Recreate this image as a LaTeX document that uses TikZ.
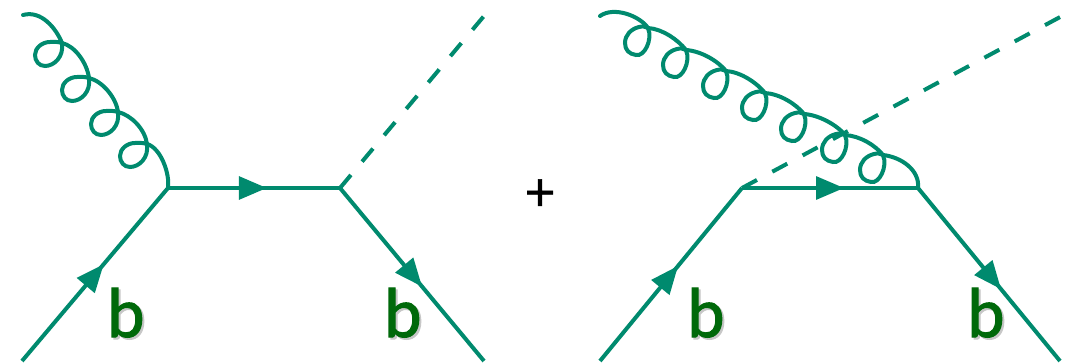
\documentclass[tikz,border=0pt]{standalone}
\usepackage{fontspec}
\setmainfont{Lato}
\newfontfamily\quarkfont[FakeBold=1.6]{Lato}
\newfontfamily\plusfont[FakeBold=.8]{Lato}
\usetikzlibrary{arrows.meta,decorations.markings}
\definecolor{linegreen}{RGB}{0,138,110}
\definecolor{quarkgreen}{RGB}{0,105,10}
\newcommand{\softshadow}[1]{\leavevmode\rlap{\kern1.5pt\raisebox{-1.5pt}{\textcolor{black!22}{#1}}}#1}
\tikzset{fermion/.style={line width=3pt,draw=linegreen,postaction={decorate},
    decoration={markings,mark=at position #1 with {\arrow[linegreen]{Triangle[length=21pt,width=17pt]}}}},
  scalar/.style={line width=3pt,draw=linegreen,dash pattern=on 12.75pt off 13.05pt},
  gluon/.style={line width=3pt,draw=linegreen,line cap=round},
  quark/.style={text=quarkgreen,font=\fontsize{50}{50}\quarkfont,anchor=base,inner sep=0pt}}

\begin{document}
\begin{tikzpicture}[x=.75pt,y=-.75pt]
  \path[use as bounding box] (0,0) rectangle (1068,364);
  % left diagram
  \coordinate (lin) at (22,361);
  \coordinate (lv1) at (168,188);
  \coordinate (lv2) at (340,188);
  \coordinate (lout) at (484,361);
  \coordinate (lhiggs) at (484,16);
  \coordinate (lglue) at (23,15);
  \draw[fermion=.56] (lin)--(lv1);
  \draw[fermion=.575] (lv1)--(lv2);
  \draw[fermion=.57] (lv2)--(lout);
  \draw[scalar] (lv2)--(lhiggs);
  \draw[gluon] (lglue) .. controls +(18,-5) and +(-6,-15) .. (62,43);
  \foreach \cx/\cy in {62/43,89/78,118/112,147/144}{
    \draw[gluon] (\cx,\cy) .. controls +(2,14) and +(9,0) .. +(-17,23)
      .. controls +(-6,0) and +(0,6) .. +(-27,12)
      .. controls +(0,-7) and +(-8,0) .. +(-12,-1)
      .. controls +(5,0) and +(-5,-1.5) .. +(0,0);
  }
  \foreach \cx/\cy/\nx/\ny in {62/43/89/78,89/78/118/112,118/112/147/144}{
    \draw[gluon] (\cx,\cy) .. controls +(13,3) and +(-2,-15) .. (\nx,\ny);
  }
  \draw[gluon] (147,144) .. controls +(14,4) and +(2,-14) .. (lv1);
  \node[quark] (lbin) at (126,337) {\softshadow{b}};
  \node[quark] (lbout) at (403,337) {\softshadow{b}};
  \node[font=\fontsize{40}{40}\plusfont,inner sep=0pt] (plus) at (540,195) {+};
  % right diagram
  \coordinate (rin) at (600,361);
  \coordinate (rv1) at (742,188);
  \coordinate (rv2) at (918,188);
  \coordinate (rout) at (1060,361);
  \coordinate (rhiggs) at (1062,16);
  \coordinate (rglue) at (600,16);
  \draw[fermion=.55] (rin)--(rv1);
  \draw[fermion=.58] (rv1)--(rv2);
  \draw[fermion=.585] (rv2)--(rout);
  \draw[scalar] (rv1)--(rhiggs);
  \draw[gluon] (rglue) .. controls +(14,-10) and +(-8,-12) .. (648,28);
  \foreach \cx/\cy in {648/28,686/50,726/71,765/93,804/114,845/135,883/155}{
    \draw[gluon] (\cx,\cy) .. controls +(5,12) and +(8,2) .. +(-12,27)
      .. controls +(-7,-1) and +(0,7) .. +(-23,15)
      .. controls +(0,-8) and +(-8,2) .. +(-9,-1)
      .. controls +(3,-1) and +(-5,-2) .. +(0,0);
  }
  \foreach \cx/\cy/\nx/\ny in {648/28/686/50,686/50/726/71,726/71/765/93,765/93/804/114,804/114/845/135,845/135/883/155}{
    \draw[gluon] (\cx,\cy) .. controls +(15,1) and +(-8,-10) .. (\nx,\ny);
  }
  \draw[gluon] (883,155) .. controls +(18,2) and +(2,-18) .. (rv2);
  \node[quark] (rbin) at (706,337) {\softshadow{b}};
  \node[quark] (rbout) at (986,337) {\softshadow{b}};
\end{tikzpicture}
\end{document}
